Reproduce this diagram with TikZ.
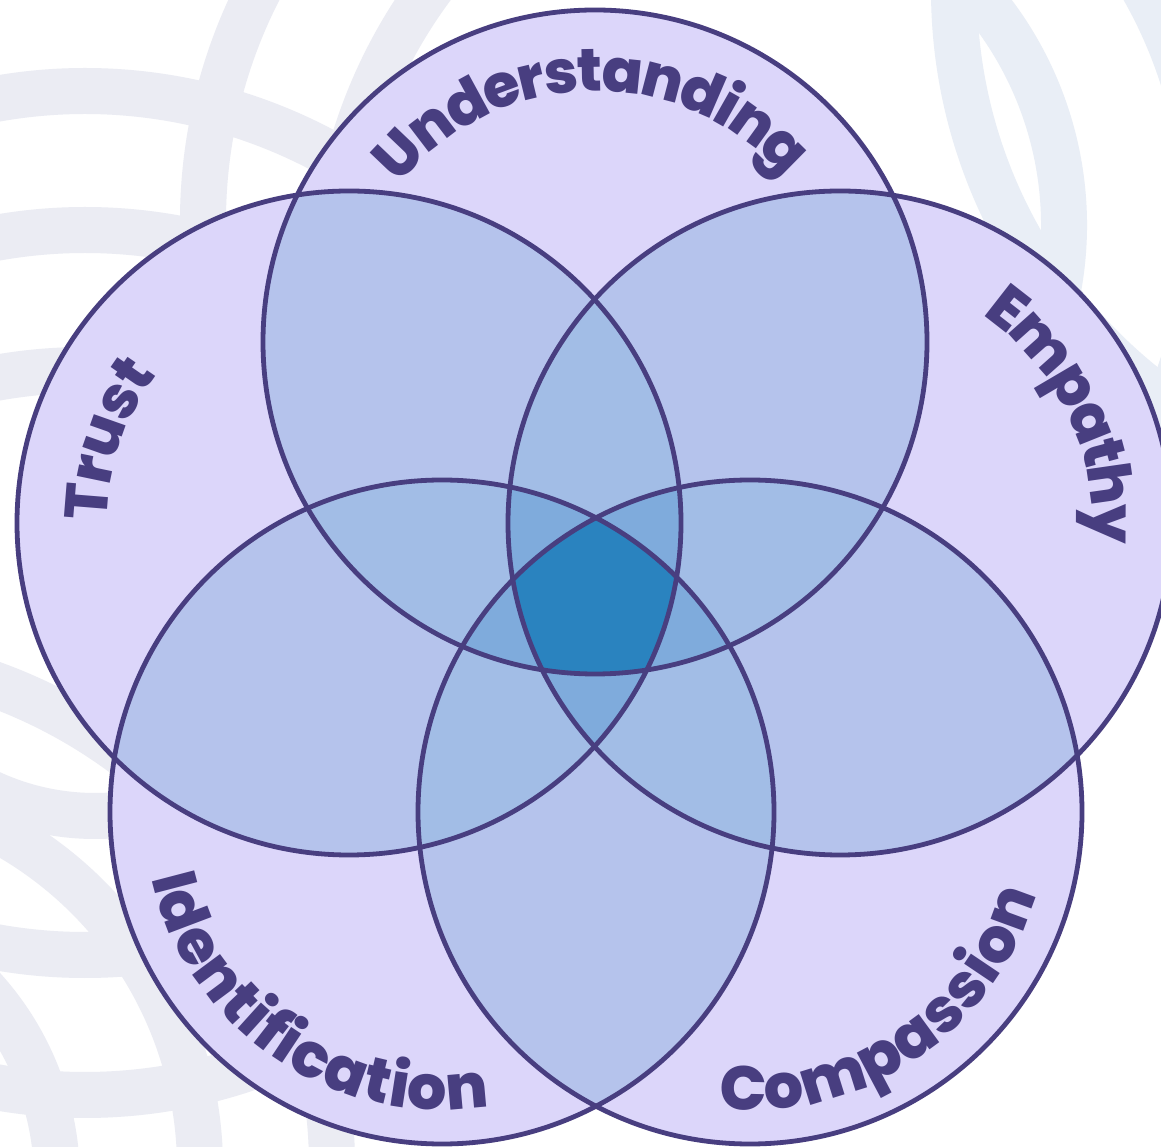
\documentclass[tikz,border=0pt]{standalone}
\usepackage{fontspec}
\newfontfamily\popE{Poppins ExtraBold}
\definecolor{bggray}{HTML}{EBECF3}
\definecolor{bgblue}{HTML}{E9EEF6}
\definecolor{ink}{HTML}{483E80}
\definecolor{one}{HTML}{DCD6FA}
\definecolor{two}{HTML}{B5C3EC}
\definecolor{three}{HTML}{A2BDE6}
\definecolor{four}{HTML}{7FABDC}
\definecolor{five}{HTML}{2A83BF}
\tikzset{
  ringband/.style={line width=46pt,draw=bggray,line cap=butt},
  ringblue/.style={line width=46pt,draw=bgblue,line cap=butt},
  vennline/.style={line width=4.8pt,draw=ink},
  letter/.style={inner sep=0pt,outer sep=0pt,anchor=base,text=ink},
}
\newcommand{\Rg}[6][ringband]{\draw[#1] ({#2+#4*cos(#5)},{1146-#3+#4*sin(#5)}) arc[start angle=#5,end angle=#6,radius=#4];}
\newcommand{\Cc}[1]{%
  \ifcase#1\or(595,804) circle[radius=332]\or(349,623) circle[radius=332]\or(840,623) circle[radius=332]\or(442,334) circle[radius=332]\or(750,334) circle[radius=332]\fi}
\newdimen\wtot \newdimen\wch \newdimen\wpre \newbox\measbox
\newcommand{\Meas}[1]{\pgfinterruptpicture\global\setbox\measbox=\hbox{\labfont#1}\endpgfinterruptpicture\wch=\wd\measbox\relax}
% cx cy r midangle dir(1 clockwise, -1 counter) track size letters id
\newcommand{\ArcText}[9]{%
  \def\labfont{\popE\fontsize{#7}{#7}\selectfont}%
  \global\wtot=0pt\relax
  \foreach \ch in {#8}{\Meas{\ch}\global\advance\wtot by \wch\relax \global\advance\wtot by #6pt\relax}%
  \global\advance\wtot by -#6pt\relax
  \global\wpre=0pt\relax
  \foreach \ch [count=\i] in {#8}{%
    \Meas{\ch}%
    \edef\pw{\the\wpre}\edef\cw{\the\wch}\edef\tw{\the\wtot}%
    \pgfmathsetmacro\ang{#4-(#5)*(\pw+0.5*\cw-0.5*\tw)/#3*57.29578}%
    \node[letter,rotate={\ang-(#5)*90}] (#9\i) at ({#1+#3*cos(\ang)},{1146-#2+#3*sin(\ang)}) {\labfont\ch};
    \global\advance\wpre by \wch\relax \global\advance\wpre by #6pt\relax
  }}
\begin{document}
\begin{tikzpicture}[x=1pt,y=1pt]
\useasboundingbox (0,0) rectangle (1161,1146);
\clip (0,0) rectangle (1161,1146);
\fill[white] (0,0) rectangle (1161,1146);
% background rings
\Rg{85}{598}{507}{60}{112}
\Rg{85}{737}{507}{60}{112}
\Rg{85}{877}{507}{60}{112}
\Rg{710}{221}{507}{130}{190}
\Rg{839}{289}{507}{130}{190}
\Rg{-183}{1168}{515}{-10}{75}
\Rg{-183}{1168}{383}{-10}{70}
\Rg{-228}{1180}{285}{-10}{55}
\Rg{95}{566}{250}{225}{300}
\Rg{85}{448}{507}{250}{300}
\Rg{85}{588}{507}{250}{305}
\Rg[ringblue]{1461}{-10}{507}{175}{250}
\Rg[ringblue]{713}{225}{351}{-20}{55}
\Rg[ringblue]{735}{221}{470}{-30}{40}
% one circle
\foreach \a in {1,...,5}{\fill[one] \Cc{\a};}
% overlaps of two
\foreach \a/\b in {1/2,1/3,1/4,1/5,2/3,2/4,2/5,3/4,3/5,4/5}{
  \begin{scope}\clip \Cc{\a};\clip \Cc{\b};\fill[two] (0,0) rectangle (1161,1146);\end{scope}}
% overlaps of three
\foreach \a/\b/\c in {1/2/3,1/2/4,1/2/5,1/3/4,1/3/5,1/4/5,2/3/4,2/3/5,2/4/5,3/4/5}{
  \begin{scope}\clip \Cc{\a};\clip \Cc{\b};\clip \Cc{\c};\fill[three] (0,0) rectangle (1161,1146);\end{scope}}
% overlaps of four
\foreach \a/\b/\c/\d in {1/2/3/4,1/2/3/5,1/2/4/5,1/3/4/5,2/3/4/5}{
  \begin{scope}\clip \Cc{\a};\clip \Cc{\b};\clip \Cc{\c};\clip \Cc{\d};\fill[four] (0,0) rectangle (1161,1146);\end{scope}}
% all five
\begin{scope}\clip \Cc{1};\clip \Cc{2};\clip \Cc{3};\clip \Cc{4};\clip \Cc{5};\fill[five] (0,0) rectangle (1161,1146);\end{scope}
% outlines
\foreach \a in {1,...,5}{\draw[vennline] \Cc{\a};}
% labels
\ArcText{595}{342}{251}{91}{1}{-2.6}{60}{U,n,d,e,r,s,t,a,n,d,i,n,g}{und}
\ArcText{840}{523}{252}{25.5}{1}{-3}{60}{E,m,p,a,t,h,y}{emp}
\ArcText{349}{523}{242}{161}{1}{-1.5}{60}{T,r,u,s,t}{tru}
\ArcText{442}{812}{298}{236}{-1}{1}{62}{I,d,e,n,t,i,f,i,c,a,t,i,o,n}{ide}
\ArcText{750}{812}{298}{304}{-1}{0.8}{62}{C,o,m,p,a,s,s,i,o,n}{com}
\end{tikzpicture}
\end{document}
